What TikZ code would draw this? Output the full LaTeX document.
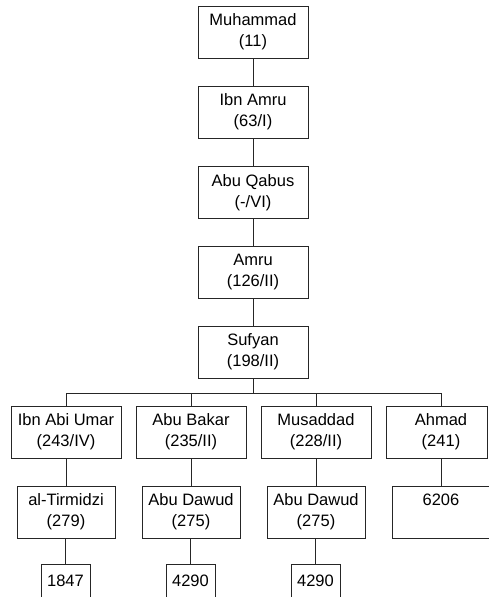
\documentclass[tikz,border=0pt]{standalone}
\usepackage{fontspec}
\setmainfont{Liberation Sans}
\begin{document}
\begin{tikzpicture}[x=1pt, y=-1pt,
  linecol/.style={draw=black!85, line width=1pt},
  narrator/.style={linecol, rectangle, minimum width=110pt, minimum height=52pt,
    inner sep=0pt, align=center, font=\fontsize{16.5}{21}\selectfont},
  book/.style={narrator, minimum width=98pt},
  hadith/.style={linecol, rectangle, minimum width=49pt, minimum height=34pt,
    inner sep=0pt, font=\fontsize{16.5}{21}\selectfont},
  link/.style={linecol}]
\useasboundingbox (0,0) rectangle (488,597);

% main chain
\node[narrator] (muhammad) at (253,32)    {Muhammad\\(11)};
\node[narrator] (ibnamru)  at (253,112)   {Ibn Amru\\(63/I)};
\node[narrator] (abuqabus) at (253,192.5) {Abu Qabus\\(-/VI)};
\node[narrator] (amru)     at (253,272)   {Amru\\(126/II)};
\node[narrator] (sufyan)   at (253,352)   {Sufyan\\(198/II)};

% students of Sufyan
\node[narrator] (ibnabiumar) at (66,432)  {Ibn Abi Umar\\(243/IV)};
\node[narrator] (abubakar)   at (191,432) {Abu Bakar\\(235/II)};
\node[narrator] (musaddad)   at (316,432) {Musaddad\\(228/II)};
\node[narrator, minimum width=101.5pt] (ahmad) at (436.75,432) {\hspace*{8.5pt}Ahmad\\\hspace*{8.5pt}(241)};
\coordinate (ahmadcol) at (441,0);

% collectors
\node[book] (tirmidzi)  at (66,512)  {al-Tirmidzi\\(279)};
\node[book] (abudawudA) at (191,512) {Abu Dawud\\(275)};
\node[book] (abudawudB) at (316,512) {Abu Dawud\\(275)};
\node[book] (musnad)    at (441,512) {6206\\\phantom{(0)}};

% hadith numbers
\node[hadith] (n1847)  at (65.5,581)  {1847};
\node[hadith] (n4290a) at (190.5,581) {4290};
\node[hadith] (n4290b) at (315.5,581) {4290};

% chain links
\draw[link] (muhammad) -- (ibnamru);
\draw[link] (ibnamru) -- (abuqabus);
\draw[link] (abuqabus) -- (amru);
\draw[link] (amru) -- (sufyan);

% branching bus below Sufyan
\coordinate (bus) at (0,393);
\draw[link] (sufyan.south) -- (sufyan.south |- bus);
\draw[link] (ibnabiumar.north |- bus) -- (ahmadcol |- bus);
\foreach \n in {ibnabiumar,abubakar,musaddad}
  \draw[link] (\n.north |- bus) -- (\n.north);
\draw[link] (ahmadcol |- bus) -- (ahmadcol |- ahmad.north);

\draw[link] (ibnabiumar) -- (tirmidzi);
\draw[link] (abubakar) -- (abudawudA);
\draw[link] (musaddad) -- (abudawudB);
\draw[link] (ahmadcol |- ahmad.south) -- (musnad.north);

\draw[link] (tirmidzi.south -| n1847.north) -- (n1847.north);
\draw[link] (abudawudA.south -| n4290a.north) -- (n4290a.north);
\draw[link] (abudawudB.south -| n4290b.north) -- (n4290b.north);
\end{tikzpicture}
\end{document}
